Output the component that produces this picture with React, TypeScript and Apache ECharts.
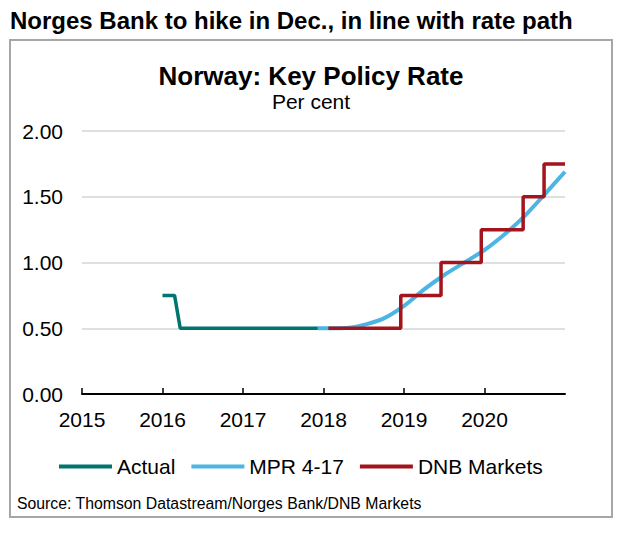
import React, { useEffect, useRef } from "react";
import * as echarts from "echarts";

const yearTicks = [2015, 2016, 2017, 2018, 2019, 2020];

const actualX = [2016.0, 2016.15, 2016.22, 2017.93];
const actualY = [0.75, 0.75, 0.5, 0.5];

const mprX = [2017.93, 2018.0, 2018.2, 2018.35, 2018.5, 2018.75, 2019.0, 2019.25, 2019.5, 2019.75, 2020.0, 2020.25, 2020.5, 2020.75, 2021.0];
const mprY = [0.5, 0.5, 0.5, 0.505, 0.525, 0.575, 0.67, 0.795, 0.905, 1.0, 1.095, 1.215, 1.355, 1.52, 1.69];

const dnbX = [2018.06, 2018.96, 2019.46, 2019.96, 2020.48, 2020.74, 2021.0];
const dnbY = [0.5, 0.75, 1.0, 1.25, 1.5, 1.75, 1.75];

const FONT = "'Liberation Sans', Arial, sans-serif";

const zip = (xs: number[], ys: number[]) => xs.map((x, i) => [x, ys[i]]);

export default function App() {
  const ref = useRef<HTMLDivElement>(null);
  useEffect(() => {
    document.body.style.margin = "0";
    const chart = echarts.init(ref.current!, null, { renderer: "svg" });
    chart.setOption({
      animation: false,
      backgroundColor: "#ffffff",
      title: [
        {
          text: "Norges Bank to hike in Dec., in line with rate path",
          left: 10,
          top: 8,
          padding: 0,
          textStyle: { fontFamily: FONT, fontSize: 24, fontWeight: "bold", color: "#000" },
        },
        {
          text: "Norway: Key Policy Rate",
          left: "center",
          top: 63,
          padding: 0,
          textStyle: { fontFamily: FONT, fontSize: 26, fontWeight: "bold", color: "#000" },
        },
        {
          text: "Per cent",
          left: "center",
          top: 91,
          padding: 0,
          textStyle: { fontFamily: FONT, fontSize: 21, fontWeight: "normal", color: "#000" },
        },
        {
          text: "Source: Thomson Datastream/Norges Bank/DNB Markets",
          left: 17,
          top: 495,
          padding: 0,
          textStyle: { fontFamily: FONT, fontSize: 15.8, fontWeight: "normal", color: "#000" },
        },
      ],
      graphic: [
        {
          type: "rect",
          shape: { x: 10, y: 40, width: 602, height: 477 },
          style: { fill: "none", stroke: "#A6A6A6", lineWidth: 2 },
          silent: true,
        },
      ],
      legend: {
        top: 451,
        left: 54,
        icon: "rect",
        itemWidth: 53,
        itemHeight: 4,
        itemGap: 16,
        textStyle: { fontFamily: FONT, fontSize: 21, color: "#000" },
        data: ["Actual", "MPR 4-17", "DNB Markets"],
      },
      grid: { left: 82, right: 57, top: 131, bottom: 146, containLabel: false },
      xAxis: {
        type: "value",
        min: 2015,
        max: 2021,
        interval: 1,
        axisLine: { show: true, lineStyle: { color: "#000", width: 2 } },
        axisTick: { show: true, inside: true, length: 6, lineStyle: { color: "#000", width: 1.5 }, customValues: yearTicks },
        axisLabel: {
          customValues: yearTicks,
          margin: 15,
          fontFamily: FONT,
          fontSize: 21,
          color: "#000",
          formatter: (v: number) => String(v),
        },
        splitLine: { show: false },
      },
      yAxis: {
        type: "value",
        min: 0,
        max: 2,
        interval: 0.5,
        axisLine: { show: false },
        axisTick: { show: false },
        axisLabel: {
          margin: 19,
          fontFamily: FONT,
          fontSize: 21,
          color: "#000",
          formatter: (v: number) => v.toFixed(2),
        },
        splitLine: { show: true, lineStyle: { color: "#D4D4D4", width: 1.5 } },
      },
      series: [
        {
          name: "Actual",
          type: "line",
          data: zip(actualX, actualY),
          showSymbol: false,
          lineStyle: { color: "#00756F", width: 3.5 },
          itemStyle: { color: "#00756F" },
        },
        {
          name: "MPR 4-17",
          type: "line",
          data: zip(mprX, mprY),
          smooth: 0.3,
          showSymbol: false,
          lineStyle: { color: "#4CB5E3", width: 4 },
          itemStyle: { color: "#4CB5E3" },
        },
        {
          name: "DNB Markets",
          type: "line",
          step: "end",
          data: zip(dnbX, dnbY),
          showSymbol: false,
          lineStyle: { color: "#A3141C", width: 3.5 },
          itemStyle: { color: "#A3141C" },
        },
      ],
    });
    return () => chart.dispose();
  }, []);
  return <div ref={ref} style={{ width: 622, height: 540 }} />;
}
